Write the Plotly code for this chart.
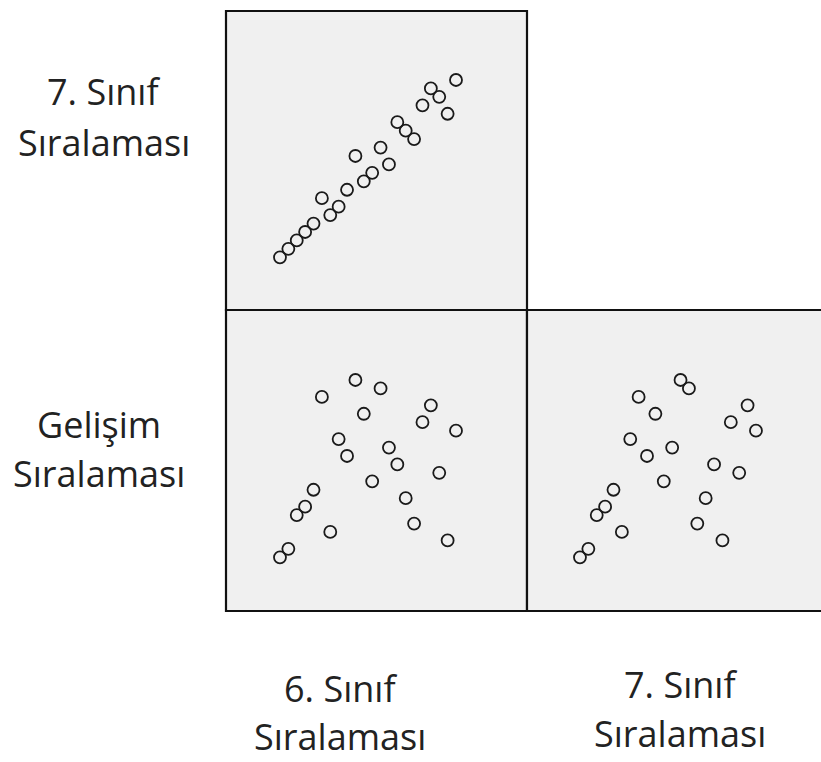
import plotly.graph_objects as go

# Ranks of 22 students
sinif6 = [1, 2, 3, 4, 5, 6, 7, 8, 9, 10, 11, 12, 13, 14, 15, 16, 17, 18, 19, 20, 21, 22]
sinif7 = [1, 2, 3, 4, 5, 8, 6, 7, 9, 13, 10, 11, 14, 12, 17, 16, 15, 19, 21, 20, 18, 22]
gelisim = [1, 2, 6, 7, 9, 20, 4, 15, 13, 22, 18, 10, 21, 14, 12, 8, 5, 17, 19, 11, 3, 16]

row_labels = [["7. Sınıf", "Sıralaması"], ["Gelişim", "Sıralaması"]]
col_labels = [["6. Sınıf", "Sıralaması"], ["7. Sınıf", "Sıralaması"]]

W, H = 821, 762
def px(x):
    return x / W
def py(y):
    return 1 - y / H

marker = dict(symbol="circle-open", size=12, color="#1a1a1a", line=dict(width=1.8, color="#1a1a1a"))

fig = go.Figure()
fig.add_trace(go.Scatter(x=sinif6, y=sinif7, mode="markers", marker=marker, xaxis="x", yaxis="y"))
fig.add_trace(go.Scatter(x=sinif6, y=gelisim, mode="markers", marker=marker, xaxis="x2", yaxis="y2"))
fig.add_trace(go.Scatter(x=sinif7, y=gelisim, mode="markers", marker=marker, xaxis="x3", yaxis="y3"))

ax = dict(visible=False, showgrid=False, zeroline=False, fixedrange=True)
fig.update_layout(
    width=W, height=H,
    margin=dict(l=0, r=0, t=0, b=0),
    paper_bgcolor="white",
    plot_bgcolor="rgba(0,0,0,0)",
    showlegend=False,
    xaxis=dict(ax, domain=[px(226), px(527)], range=[-5.44, 30.47]),
    yaxis=dict(ax, domain=[py(310), py(11)], range=[-5.24, 30.17]),
    xaxis2=dict(ax, domain=[px(226), px(527)], range=[-5.44, 30.47]),
    yaxis2=dict(ax, domain=[py(611), py(310)], range=[-5.36, 30.29]),
    xaxis3=dict(ax, domain=[px(527), 1.0], range=[-5.32, 29.76]),
    yaxis3=dict(ax, domain=[py(611), py(310)], range=[-5.36, 30.29]),
)

rects = [(226, 11, 527, 310), (226, 310, 527, 611), (527, 310, 829, 611)]
for (x0, y0, x1, y1) in rects:
    fig.add_shape(type="rect", xref="paper", yref="paper",
                  x0=px(x0), x1=px(x1), y0=py(y1), y1=py(y0),
                  fillcolor="#f0f0f0", line=dict(color="#111111", width=2.2), layer="below")

font = dict(family="Open Sans", size=36, color="#222222")
row_pos = [(104, [92, 142]), (99, [424, 473])]
for (cx, ys), lines in zip(row_pos, row_labels):
    for yy, t in zip(ys, lines):
        fig.add_annotation(text=t, x=px(cx), y=py(yy), xref="paper", yref="paper",
                           showarrow=False, xanchor="center", yanchor="middle", font=font)
col_pos = [(340, [688, 736]), (680, [684, 733])]
for (cx, ys), lines in zip(col_pos, col_labels):
    for yy, t in zip(ys, lines):
        fig.add_annotation(text=t, x=px(cx), y=py(yy), xref="paper", yref="paper",
                           showarrow=False, xanchor="center", yanchor="middle", font=font)

fig.write_html("out.html", config={"displayModeBar": False},
               post_script="document.body.style.margin='0';")
